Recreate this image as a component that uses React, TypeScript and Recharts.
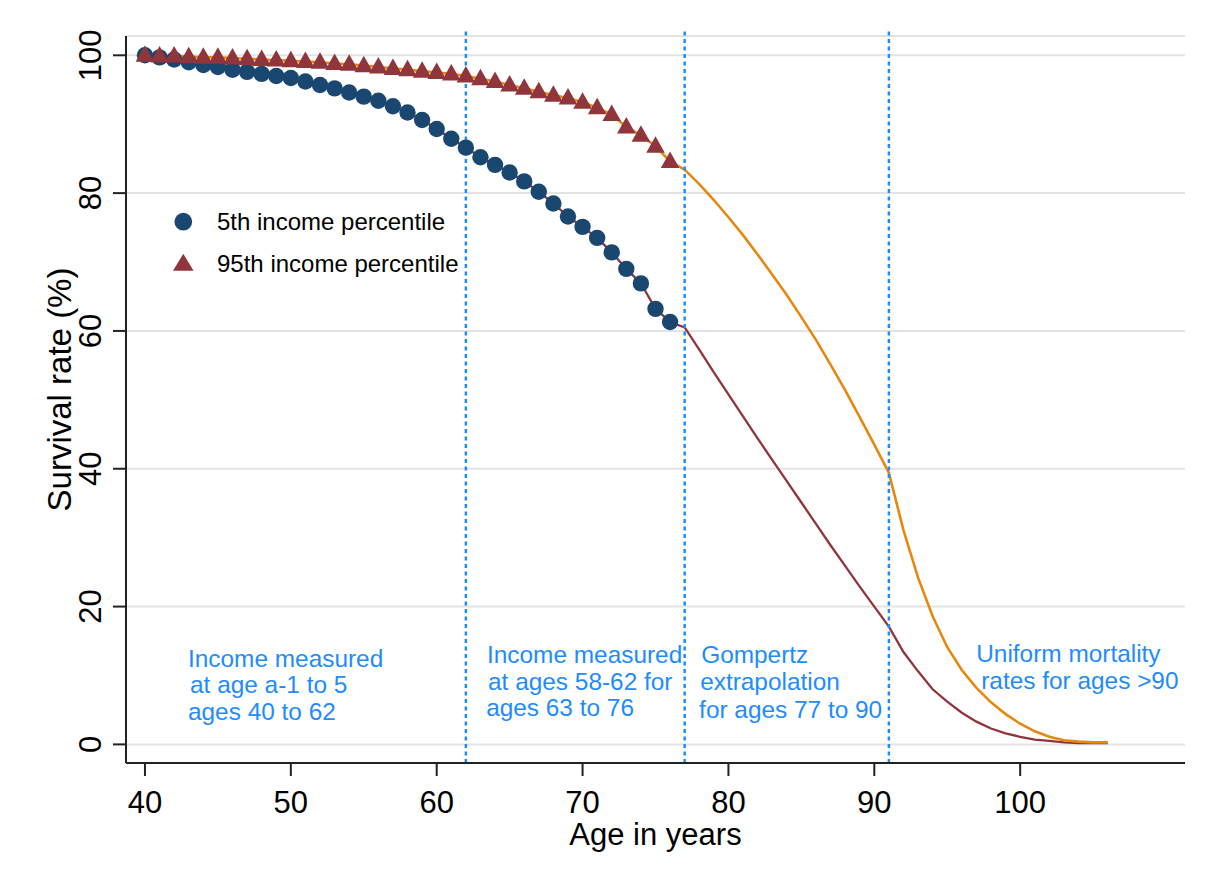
// Survival curves by income percentile, observed points plus extrapolated fits
import {
  ComposedChart,
  Line,
  XAxis,
  YAxis,
  CartesianGrid,
  ReferenceLine,
  ReferenceDot,
} from 'recharts';

const ages = [
  40, 41, 42, 43, 44, 45, 46, 47, 48, 49, 50, 51, 52, 53, 54, 55, 56, 57, 58, 59,
  60, 61, 62, 63, 64, 65, 66, 67, 68, 69, 70, 71, 72, 73, 74, 75, 76, 77, 78, 79,
  80, 81, 82, 83, 84, 85, 86, 87, 88, 89, 90, 91, 92, 93, 94, 95, 96, 97, 98, 99,
  100, 101, 102, 103, 104, 105, 106,
];

// observed survival, ages 40 to 76
const p5Observed = [
  100.0, 99.7, 99.4, 99.0, 98.6, 98.3, 97.9, 97.6, 97.3, 97.0, 96.7, 96.2, 95.7, 95.2,
  94.6, 94.0, 93.4, 92.6, 91.7, 90.6, 89.3, 87.9, 86.6, 85.2, 84.1, 83.0, 81.7, 80.2,
  78.5, 76.6, 75.1, 73.5, 71.4, 69.0, 66.9, 63.2, 61.3,
];
const p95Observed = [
  100.0, 99.9, 99.9, 99.8, 99.7, 99.7, 99.6, 99.5, 99.4, 99.3, 99.2, 99.1, 99.0, 98.8,
  98.7, 98.5, 98.3, 98.1, 97.9, 97.7, 97.5, 97.3, 97.0, 96.6, 96.2, 95.7, 95.2, 94.7,
  94.2, 93.8, 93.2, 92.4, 91.4, 89.6, 88.4, 86.8, 84.6,
];

// extrapolated survival, ages 77 to 106
const p5Extrapolated = [
  60.5, 57.3, 54.0, 50.8, 47.6, 44.4, 41.3, 38.2, 35.1, 32.0, 28.9, 25.9, 22.9, 20.0,
  17.1, 13.4, 10.6, 8.0, 6.2, 4.6, 3.3, 2.3, 1.6, 1.1, 0.7, 0.5, 0.3, 0.2, 0.2, 0.2,
];
const p95Extrapolated = [
  83.4, 81.3, 79.0, 76.5, 73.9, 71.1, 68.2, 65.2, 62.0, 58.7, 55.1, 51.4, 47.5, 43.5,
  39.4, 31.1, 24.2, 18.6, 14.1, 10.8, 8.2, 6.1, 4.4, 3.0, 1.9, 1.1, 0.6, 0.4, 0.3, 0.3,
];

const xTicks = [40, 50, 60, 70, 80, 90, 100];
const yTicks = [0, 20, 40, 60, 80, 100];
const periodBreaks = [62, 77, 91];

const legendItems = [
  { label: '5th income percentile', marker: 'circle' },
  { label: '95th income percentile', marker: 'triangle' },
];

const notes = [
  { age: 42.95, value: 11.3, text: 'Income measured' },
  { age: 43.09, value: 7.4, text: 'at age a-1 to 5' },
  { age: 42.95, value: 3.5, text: 'ages 40 to 62' },
  { age: 63.45, value: 11.75, text: 'Income measured' },
  { age: 63.52, value: 7.95, text: 'at ages 58-62 for' },
  { age: 63.39, value: 4.05, text: 'ages 63 to 76' },
  { age: 78.13, value: 11.75, text: 'Gompertz' },
  { age: 78.06, value: 7.85, text: 'extrapolation' },
  { age: 77.99, value: 3.8, text: 'for ages 77 to 90' },
  { age: 96.99, value: 11.95, text: 'Uniform mortality' },
  { age: 97.33, value: 8.1, text: 'rates for ages >90' },
];

const NAVY = '#1a476f';
const MAROON = '#90353b';
const ORANGE = '#e8870e';
const BLUE = '#1e8cff';
const FONT = '"Liberation Sans", Arial, sans-serif';

const rows = ages.map((age, i) => {
  const n = p5Observed.length;
  return {
    age,
    p5Dot: i < n ? p5Observed[i] : null,
    p95Dot: i < n ? p95Observed[i] : null,
    p5Line: i < n ? p5Observed[i] : p5Extrapolated[i - n],
    p95Line: i < n ? p95Observed[i] : p95Extrapolated[i - n],
  };
});

const CircleDot = (props: any) => {
  const { cx, cy, index } = props;
  if (cx == null || cy == null || props.value == null) return <g key={`c${index}`} />;
  return <circle key={`c${index}`} cx={cx} cy={cy} r={8.2} fill={NAVY} />;
};

const TriangleDot = (props: any) => {
  const { cx, cy, index } = props;
  if (cx == null || cy == null || props.value == null) return <g key={`t${index}`} />;
  const pts = `${cx},${cy - 10} ${cx + 9.3},${cy + 6.5} ${cx - 9.3},${cy + 6.5}`;
  return <polygon key={`t${index}`} points={pts} fill={MAROON} />;
};

const YTick = (props: any) => {
  const { x, y, payload } = props;
  const cx = x - 23;
  return (
    <text
      x={cx}
      y={y}
      dy="0.36em"
      transform={`rotate(-90, ${cx}, ${y})`}
      textAnchor="middle"
      fontSize={31}
      fontFamily={FONT}
      fill="#000"
    >
      {payload.value}
    </text>
  );
};

const XTick = (props: any) => {
  const { x, y, payload } = props;
  return (
    <text x={x} y={y + 37} textAnchor="middle" fontSize={31} fontFamily={FONT} fill="#000">
      {payload.value}
    </text>
  );
};

const ChartLegend = () => (
  <svg
    width={320}
    height={80}
    style={{ position: 'absolute', left: 170, top: 205, display: 'block' }}
  >
    {legendItems.map((item, i) => {
      const cy = 16.7 + i * 41.6;
      return (
        <g key={item.label}>
          {item.marker === 'circle' ? (
            <circle cx={13.3} cy={cy} r={8.9} fill={NAVY} />
          ) : (
            <polygon
              points={`13.3,${cy - 9.5} ${23.6},${cy + 7.5} ${3},${cy + 7.5}`}
              fill={MAROON}
            />
          )}
          <text x={47} y={cy + 8.2} fontSize={24} fontFamily={FONT} fill="#000">
            {item.label}
          </text>
        </g>
      );
    })}
  </svg>
);

export default function App() {
  return (
    <div style={{ position: 'absolute', left: 0, top: 0, width: 1215, height: 882, background: '#fff' }}>
      <ComposedChart
        width={1215}
        height={882}
        data={rows}
        margin={{ top: 36, right: 30, bottom: 39, left: 60 }}
      >
        <CartesianGrid vertical={false} stroke="#e3e3e3" strokeWidth={2} />
        <XAxis
          dataKey="age"
          type="number"
          domain={[38.7, 111.3]}
          allowDataOverflow
          ticks={xTicks}
          height={80}
          tickSize={13}
          tickMargin={0}
          tick={<XTick />}
          stroke="#222"
          strokeWidth={2}
          label={(p: any) => {
            const vb = p.viewBox;
            return (
              <text
                x={vb.x + vb.width / 2}
                y={vb.y + 82}
                textAnchor="middle"
                fontSize={31}
                fontFamily={FONT}
                fill="#000"
              >
                Age in years
              </text>
            );
          }}
        />
        <YAxis
          type="number"
          domain={[-2.7, 102.8]}
          allowDataOverflow
          ticks={yTicks}
          width={66}
          tickSize={13}
          tickMargin={0}
          tick={<YTick />}
          stroke="#222"
          strokeWidth={2}
          label={(p: any) => {
            const vb = p.viewBox;
            const cx = 59;
            const cy = vb.y + vb.height / 2 - 10;
            return (
              <text
                x={cx}
                y={cy}
                dy="0.36em"
                transform={`rotate(-90, ${cx}, ${cy})`}
                textAnchor="middle"
                fontSize={33}
                fontFamily={FONT}
                fill="#000"
              >
                Survival rate (%)
              </text>
            );
          }}
        />
        <Line
          dataKey="p5Dot"
          stroke="none"
          dot={CircleDot}
          activeDot={false}
          isAnimationActive={false}
        />
        <Line
          dataKey="p95Dot"
          stroke="none"
          dot={TriangleDot}
          activeDot={false}
          isAnimationActive={false}
        />
        <Line
          type="linear"
          dataKey="p5Line"
          stroke={MAROON}
          strokeWidth={2.3}
          dot={false}
          activeDot={false}
          isAnimationActive={false}
        />
        <Line
          type="linear"
          dataKey="p95Line"
          stroke={ORANGE}
          strokeWidth={2.6}
          dot={false}
          activeDot={false}
          isAnimationActive={false}
        />
        {periodBreaks.map((a) => (
          <ReferenceLine
            key={a}
            segment={[
              { x: a, y: -2.7 },
              { x: a, y: 103.6 },
            ]}
            ifOverflow="visible"
            stroke={BLUE}
            strokeWidth={2.5}
            strokeDasharray="4 3.5"
          />
        ))}
        {notes.map((n, i) => (
          <ReferenceDot
            key={i}
            x={n.age}
            y={n.value}
            r={0}
            ifOverflow="visible"
            shape={(p: any) => (
              <text x={p.cx} y={p.cy} fontSize={24.4} fontFamily={FONT} fill={BLUE}>
                {n.text}
              </text>
            )}
          />
        ))}
      </ComposedChart>
      <ChartLegend />
    </div>
  );
}
